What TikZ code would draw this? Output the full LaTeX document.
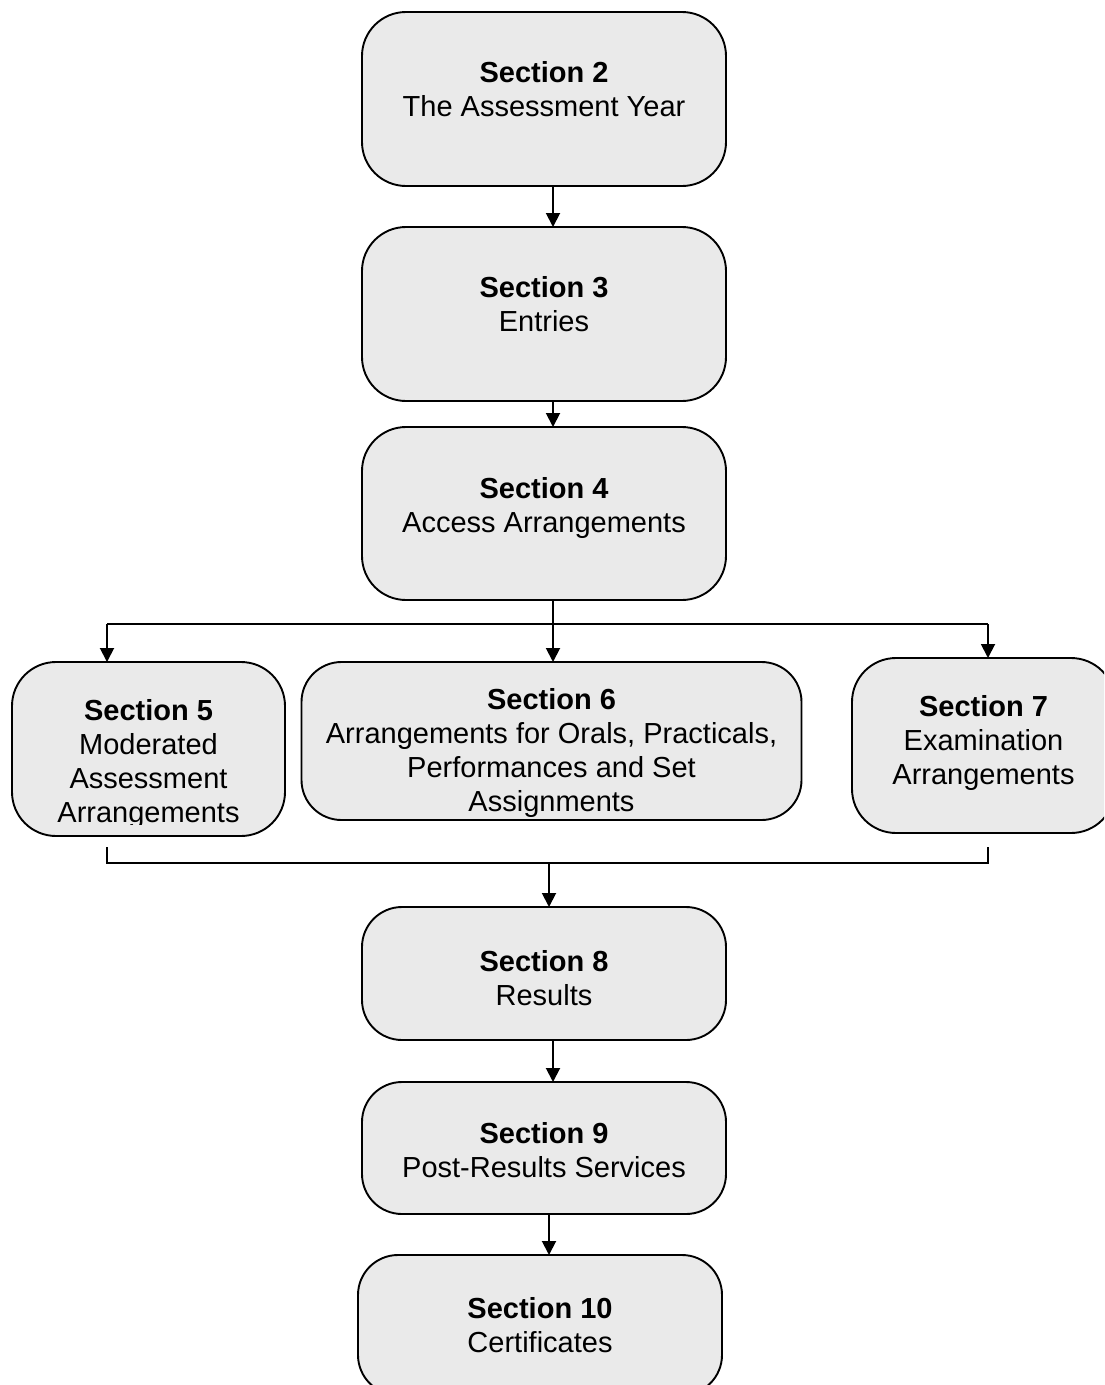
\documentclass[tikz,border=0pt]{standalone}
\usepackage{fontspec}
\setmainfont{Liberation Sans}
\usetikzlibrary{arrows.meta}
\definecolor{boxfill}{RGB}{234,234,234}
\begin{document}
\begin{tikzpicture}[x=1pt,y=-1pt,
  box/.style={draw=black, line width=1.9pt, fill=boxfill, rounded corners=#1, inner sep=0pt, outer sep=0pt, anchor=north west},
  box/.default=44pt,
  lbl/.style={anchor=base, inner sep=0pt, font=\fontsize{29}{34}\selectfont},
  arr/.style={line width=1.9pt, -{Triangle[width=14pt,length=14pt]}},
  ln/.style={line width=1.9pt}]
\useasboundingbox (0,0) rectangle (1104,1385);
\clip (0,0) rectangle (1104,1385);

% boxes
\node[box, minimum width=364pt, minimum height=174pt] (s2) at (362,12) {};
\node[box, minimum width=364pt, minimum height=174pt] (s3) at (362,227) {};
\node[box, minimum width=364pt, minimum height=173pt] (s4) at (362,427) {};
\node[box, minimum width=273pt, minimum height=174pt] (s5) at (12,662) {};
\node[box=40pt, minimum width=500pt, minimum height=158pt] (s6) at (301.5,662) {};
\node[box, minimum width=263pt, minimum height=175pt] (s7) at (852,658) {};
\node[box=40pt, minimum width=364pt, minimum height=133pt] (s8) at (362,907) {};
\node[box=40pt, minimum width=364pt, minimum height=132pt] (s9) at (362,1082) {};
\node[box=40pt, minimum width=364pt, minimum height=140pt] (s10) at (358,1255) {};

% texts
\node[lbl] (t2) at (544,82) {\begin{tabular}[t]{@{}c@{}}\textbf{Section 2}\\The Assessment Year\end{tabular}};
\node[lbl] (t3) at (544,297) {\begin{tabular}[t]{@{}c@{}}\textbf{Section 3}\\Entries\end{tabular}};
\node[lbl] (t4) at (544,498) {\begin{tabular}[t]{@{}c@{}}\textbf{Section 4}\\Access Arrangements\end{tabular}};
\begin{scope}
\clip (12,662) rectangle (285,824);
\node[lbl] (t5) at (148.5,720) {\begin{tabular}[t]{@{}c@{}}\textbf{Section 5}\\Moderated\\Assessment\\Arrangements\end{tabular}};
\end{scope}
\node[lbl] (t6) at (551.5,709) {\begin{tabular}[t]{@{}c@{}}\textbf{Section 6}\\Arrangements for Orals, Practicals,\\Performances and Set\\Assignments\end{tabular}};
\node[lbl] (t7) at (983.5,716.5) {\begin{tabular}[t]{@{}c@{}}\textbf{Section 7}\\Examination\\Arrangements\end{tabular}};
\node[lbl] (t8) at (544,971) {\begin{tabular}[t]{@{}c@{}}\textbf{Section 8}\\Results\end{tabular}};
\node[lbl] (t9) at (544,1143) {\begin{tabular}[t]{@{}c@{}}\textbf{Section 9}\\Post-Results Services\end{tabular}};
\node[lbl] (t10) at (540,1318) {\begin{tabular}[t]{@{}c@{}}\textbf{Section 10}\\Certificates\end{tabular}};

% connectors
\draw[arr] ([xshift=9pt]s2.south) -- ([xshift=9pt]s3.north);
\draw[arr] ([xshift=9pt]s3.south) -- ([xshift=9pt]s4.north);
\coordinate (split) at ([xshift=9pt,yshift=-24pt]s4.south);
\coordinate (hl) at (split -| 107,0);
\coordinate (hr) at (split -| 988,0);
\draw[ln] ([xshift=9pt]s4.south) -- (split);
\draw[ln] (hl) -- (hr);
\draw[arr] (hl) -- (hl |- s5.north);
\draw[arr] (split) -- (split |- s6.north);
\draw[arr] (hr) -- (hr |- s7.north);
\coordinate (bl) at (107,847);
\coordinate (br) at (988,847);
\coordinate (merge) at (549,863);
\draw[ln] (bl) -- (bl |- merge) -- (br |- merge) -- (br);
\draw[arr] (merge) -- (merge |- s8.north);
\draw[arr] ([xshift=9pt]s8.south) -- ([xshift=9pt]s9.north);
\draw[arr] ([xshift=5pt]s9.south) -- ([xshift=9pt]s10.north);
\end{tikzpicture}
\end{document}
